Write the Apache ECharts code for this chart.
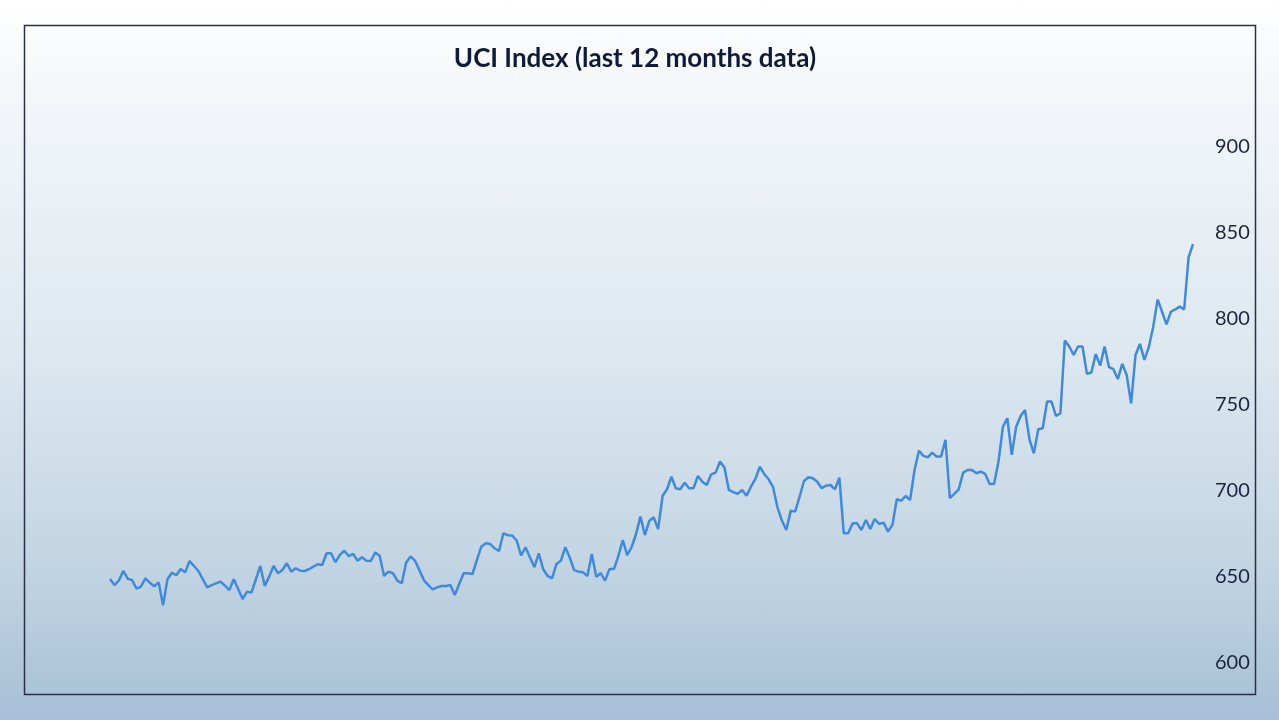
<!DOCTYPE html>
<html>
<head>
<meta charset="utf-8">
<style>
  html, body { margin: 0; padding: 0; width: 1279px; height: 720px; overflow: hidden; }
  body { background: linear-gradient(to bottom, #ffffff 0%, #f4f7fa 12%, #dce7ef 50%, #c3d5e3 78%, #a6c0d7 100%); }
  #chart { width: 1279px; height: 720px; }
</style>
<script src="https://cdn.jsdelivr.net/npm/echarts@6/dist/echarts.min.js"></script>
</head>
<body>
<div id="chart"></div>
<script>
const titleText = 'UCI Index (last 12 months data)';
const yTicks = [600, 650, 700, 750, 800, 850, 900];
const indexValues = [
  648.8, 645.3, 647.9, 653.5, 649.0, 648.2, 643.2, 644.4, 649.2, 646.7,
  644.6, 646.9, 633.5, 648.7, 652.5, 651.0, 654.6, 652.7, 659.3, 656.4,
  653.5, 648.8, 644.0, 645.3, 646.3, 647.3, 645.0, 642.4, 648.7, 643.0,
  637.2, 641.5, 640.9, 648.7, 656.4, 644.8, 650.2, 656.4, 652.2, 654.1,
  658.0, 653.1, 655.1, 653.7, 653.5, 654.5, 656.0, 657.4, 657.0, 663.8,
  663.8, 658.6, 662.8, 665.3, 662.2, 663.4, 659.5, 661.5, 659.5, 659.3,
  664.2, 662.4, 650.6, 653.1, 652.2, 647.9, 646.4, 658.4, 661.9, 659.5,
  654.0, 648.2, 645.3, 642.8, 644.0, 644.8, 644.8, 645.3, 639.5, 645.9,
  652.2, 652.2, 651.7, 659.9, 667.6, 669.6, 669.2, 666.7, 665.1, 675.4,
  674.3, 674.1, 671.2, 662.5, 667.3, 661.5, 655.7, 663.8, 654.5, 650.6,
  649.2, 657.6, 659.5, 667.3, 661.3, 654.0, 653.1, 652.7, 650.6, 663.4,
  650.2, 652.2, 647.9, 654.6, 654.6, 662.2, 671.5, 662.7, 667.3, 675.0,
  685.1, 674.4, 682.6, 684.7, 677.8, 697.1, 701.0, 708.3, 701.6, 701.0,
  704.8, 701.6, 701.6, 708.7, 705.4, 703.5, 709.7, 710.7, 717.1, 713.6,
  700.6, 699.4, 698.3, 700.6, 697.3, 702.5, 707.0, 714.1, 709.9, 706.8,
  702.2, 690.5, 682.8, 677.3, 688.6, 688.0, 696.7, 705.8, 708.0, 707.4,
  705.4, 701.6, 703.1, 703.5, 701.0, 707.8, 675.4, 675.4, 681.2, 681.2,
  677.3, 683.1, 677.9, 683.7, 680.8, 681.6, 676.4, 680.3, 695.2, 694.4,
  697.1, 694.8, 712.2, 723.4, 720.4, 719.6, 722.3, 720.0, 720.0, 729.7,
  695.8, 698.3, 701.0, 710.7, 712.2, 712.2, 710.3, 711.3, 709.9, 704.1,
  704.1, 717.1, 737.4, 742.3, 721.0, 737.4, 743.6, 747.1, 730.0, 721.9,
  735.9, 736.5, 752.0, 752.0, 743.6, 745.2, 787.5, 784.0, 779.1, 784.0,
  784.0, 768.1, 768.9, 779.6, 772.9, 784.0, 772.0, 770.8, 765.1, 773.9,
  767.4, 751.0, 779.1, 785.5, 776.2, 783.6, 795.5, 811.4, 804.2, 796.9,
  804.2, 805.6, 807.2, 805.6, 835.9, 843.5
];
const dayLabels = indexValues.map((_, i) => 'Day ' + (i + 1));

const chart = echarts.init(document.getElementById('chart'), null, { renderer: 'canvas' });
chart.setOption({
  backgroundColor: 'transparent',
  animation: false,
  title: {
    text: titleText,
    left: 630,
    top: 41,
    textAlign: 'center',
    textStyle: { fontFamily: 'Lato', fontWeight: 'bold', fontSize: 26, color: '#0f1a3a' }
  },
  grid: { left: 110, right: 86, top: 147, bottom: 57, containLabel: false },
  xAxis: {
    type: 'category',
    data: dayLabels,
    boundaryGap: false,
    axisLine: { show: false },
    axisTick: { show: false },
    axisLabel: { show: false },
    splitLine: { show: false }
  },
  yAxis: {
    type: 'value',
    position: 'right',
    min: yTicks[0],
    max: yTicks[yTicks.length - 1],
    interval: 50,
    axisLine: { show: false },
    axisTick: { show: false },
    splitLine: { show: false },
    axisLabel: { margin: 22, fontFamily: 'Lato', fontSize: 20, color: '#1d2340', verticalAlign: 'middle', padding: [3, 0, 0, 0] }
  },
  graphic: [{
    type: 'rect',
    shape: { x: 24.5, y: 25.5, width: 1231, height: 669 },
    style: { fill: 'none', stroke: '#2b3048', lineWidth: 1.5 },
    silent: true
  }],
  series: [{
    type: 'line',
    data: indexValues,
    showSymbol: false,
    lineStyle: { color: '#4189dd', width: 2.5 },
    itemStyle: { color: '#4189dd' }
  }]
});
</script>
</body>
</html>
